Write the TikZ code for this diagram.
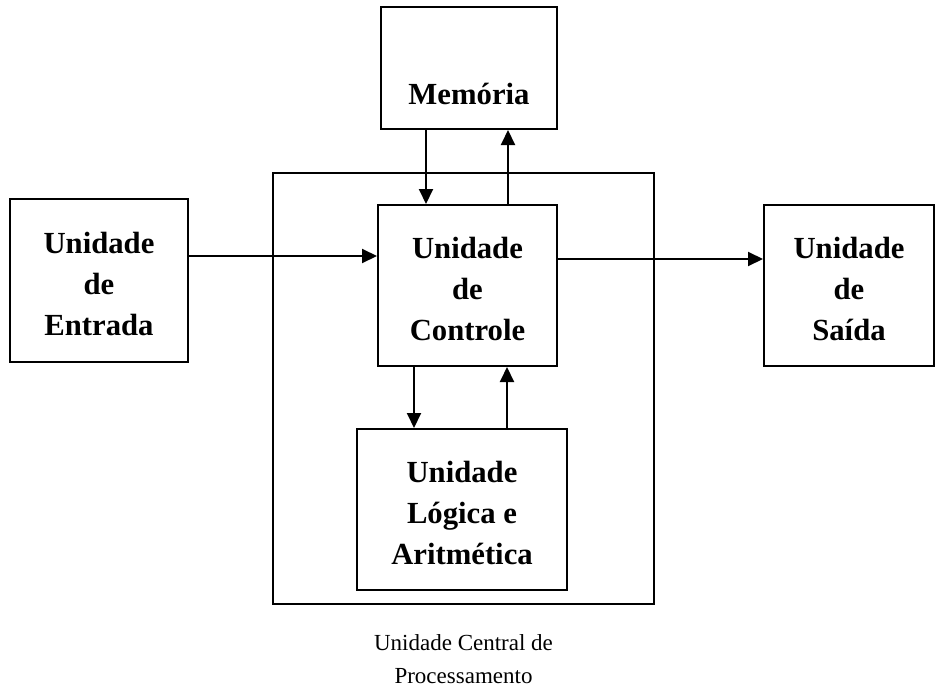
\documentclass[tikz,border=0pt]{standalone}
\usepackage{fontspec}
\setmainfont{Liberation Serif}
\usetikzlibrary{arrows.meta, positioning}
\tikzstyle{unit} = [rectangle, draw=black, line width=2pt, inner sep=0pt, align=center, font=\fontsize{30.7}{41}\selectfont\bfseries]
\tikzstyle{arrow} = [line width=2pt, -{Triangle[length=15pt,width=14pt]}]
\newcommand{\topgap}{\rule{0pt}{29pt}}

\begin{document}
\begin{tikzpicture}[x=1pt, y=-1pt]
\useasboundingbox (0,0) rectangle (936,693);
\node (cpu) [rectangle, draw=black, line width=1.5pt, minimum width=381pt, minimum height=431pt] at (463.5,388.5) {};
\node (controle) [unit, minimum width=179pt, minimum height=161pt] at (467.5,285.5) {\topgap Unidade\\de\\Controle};
\node (memoria) [unit, minimum width=176pt, minimum height=122pt, text height=76pt, text depth=4pt] at (469,68) {Memória};
\node (entrada) [unit, minimum width=178pt, minimum height=163pt] at (99,280.5) {\topgap Unidade\\de\\Entrada};
\node (saida) [unit, minimum width=170pt, minimum height=161pt] at (849,285.5) {\topgap Unidade\\de\\Saída};
\node (ula) [unit, minimum width=210pt, minimum height=161pt] at (462,509.5) {\topgap Unidade\\Lógica e\\Aritmética};
\node (legenda) [below=30pt of cpu, inner sep=0pt, align=center, font=\fontsize{23}{33}\selectfont] {Unidade Central de\\Processamento};
\draw [arrow] ([yshift=24.5pt]entrada.east) -- ([yshift=24.5pt]entrada.east -| controle.west);
\draw [arrow] ([yshift=26.5pt]controle.east) -- ([yshift=26.5pt]controle.east -| saida.west);
\draw [arrow] ([xshift=-43pt]memoria.south) -- ([xshift=-43pt]memoria.south |- controle.north);
\draw [arrow] ([xshift=40.5pt]controle.north) -- ([xshift=40.5pt]controle.north |- memoria.south);
\draw [arrow] ([xshift=-53.5pt]controle.south) -- ([xshift=-53.5pt]controle.south |- ula.north);
\draw [arrow] ([xshift=45pt]ula.north) -- ([xshift=45pt]ula.north |- controle.south);
\end{tikzpicture}
\end{document}
